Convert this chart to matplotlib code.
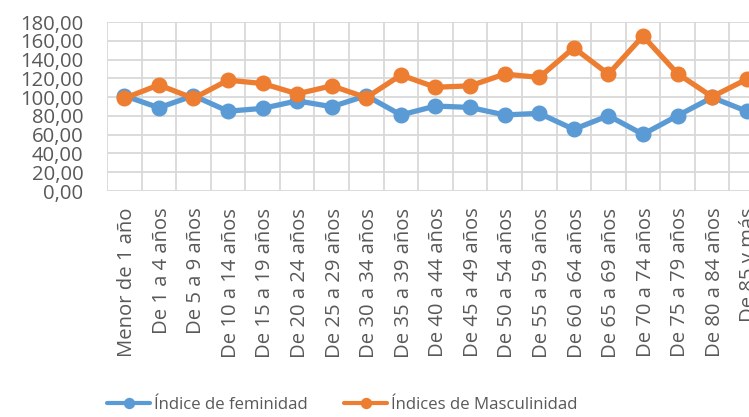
import matplotlib
matplotlib.use("Agg")
import matplotlib.pyplot as plt
from matplotlib.ticker import FuncFormatter, FixedLocator
from matplotlib.transforms import ScaledTranslation

categories = ["Menor de 1 año", "De 1 a 4 años", "De 5 a 9 años", "De 10 a 14 años",
              "De 15 a 19 años", "De 20 a 24 años", "De 25 a 29 años", "De 30 a 34 años",
              "De 35 a 39 años", "De 40 a 44 años", "De 45 a 49 años", "De 50 a 54 años",
              "De 55 a 59 años", "De 60 a 64 años", "De 65 a 69 años", "De 70 a 74 años",
              "De 75 a 79 años", "De 80 a 84 años", "De 85 y más"]
feminidad = [101.5, 88.7, 101.5, 85.0, 88.0, 96.0, 89.8, 101.5, 81.0, 90.5, 89.0, 81.0,
             82.7, 65.7, 80.2, 60.4, 80.2, 99.6, 85.0]
masculinidad = [98.7, 113.0, 98.7, 118.0, 114.5, 103.5, 112.0, 99.5, 123.5, 110.5, 112.0,
                124.5, 121.0, 152.5, 124.5, 165.0, 125.0, 100.4, 119.0]
yticks = [0, 20, 40, 60, 80, 100, 120, 140, 160, 180]

plt.rcParams['font.family'] = ['Open Sans', 'DejaVu Sans']
W, H = 749, 417
fig = plt.figure(figsize=(W / 100, H / 100), dpi=100)
left, top, right, bottom = 107, 22, 764, 191
ax = fig.add_axes([left / W, 1 - bottom / H, (right - left) / W, (bottom - top) / H])

x = list(range(len(categories)))
blue = '#5B9BD5'
orange = '#ED7D31'
ax.plot(x, feminidad, color=blue, lw=3.8, marker='o', ms=10.5, label='Índice de feminidad',
        solid_capstyle='round', zorder=3, clip_on=False)
ax.plot(x, masculinidad, color=orange, lw=3.8, marker='o', ms=10.5, label='Índices de Masculinidad',
        solid_capstyle='round', zorder=4, clip_on=False)

ax.set_xlim(-0.5, len(categories) - 0.5)
ax.set_ylim(0, 180)
ax.set_yticks(yticks)
ax.yaxis.set_major_formatter(FuncFormatter(lambda v, p: f"{v:.2f}".replace('.', ',')))
ax.set_xticks(x)
ax.set_xticklabels(categories, rotation=90, va='top', ha='center')
ax.xaxis.set_minor_locator(FixedLocator([i - 0.5 for i in range(len(categories) + 1)]))
ax.grid(False)
ax.grid(True, which='minor', axis='x', color='#D9D9D9', lw=1.3)
ax.grid(True, which='major', axis='y', color='#D9D9D9', lw=1.3)
ax.set_axisbelow(True)
for s in ax.spines.values():
    s.set_visible(False)
ax.tick_params(axis='both', which='both', length=0, colors='#595959', labelsize=14.6)
ax.tick_params(axis='y', pad=17)
ax.tick_params(axis='x', pad=12)
off = ScaledTranslation(2 / 72, 0, fig.dpi_scale_trans)
for lbl in ax.get_xticklabels():
    lbl.set_transform(lbl.get_transform() + off)

leg = fig.legend(loc='center', bbox_to_anchor=(342 / W, (H - 405) / H), ncol=2, frameon=False,
                 fontsize=12.1, handlelength=2.6, handletextpad=0.2, columnspacing=2.15,
                 borderpad=0, labelcolor='#595959', markerscale=0.68)
for ln in leg.get_lines():
    ln.set_linewidth(3.0)

fig.savefig('out.png', dpi=100)
